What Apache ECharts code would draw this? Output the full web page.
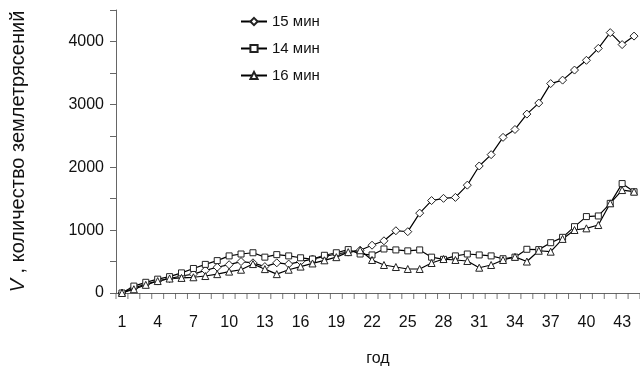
<!DOCTYPE html>
<html>
<head>
<meta charset="utf-8">
<script src="https://cdn.jsdelivr.net/npm/echarts@6/dist/echarts.min.js"></script>
<style>
  html, body { margin: 0; padding: 0; background: #fff; }
  #chart { width: 640px; height: 373px; }
</style>
</head>
<body>
<div id="chart"></div>
<script>
// годы 1..44
const years = [];
for (let i = 1; i <= 44; i++) years.push(String(i));

const seriesNames = ['15 мин', '14 мин', '16 мин'];

// 15 мин (ромбы)
const min15 = [0, 80, 140, 190, 230, 270, 300, 360, 410, 450,
  500, 480, 420, 480, 460, 500, 540, 580, 620, 650,
  680, 760, 830, 990, 975, 1270, 1470, 1505, 1520, 1715,
  2020, 2200, 2475, 2600, 2845, 3020, 3330, 3385, 3545, 3700,
  3890, 4140, 3950, 4085];

// 14 мин (квадраты)
const min14 = [0, 110, 170, 220, 260, 320, 390, 455, 515, 590,
  620, 640, 570, 610, 590, 560, 540, 600, 640, 690,
  620, 605, 700, 685, 670, 685, 570, 535, 590, 620,
  605, 590, 545, 570, 695, 690, 800, 885, 1055, 1215,
  1225, 1425, 1740, 1610];

// 16 мин (треугольники)
const min16 = [0, 60, 130, 190, 230, 240, 250, 270, 300, 340,
  370, 460, 380, 300, 370, 420, 470, 520, 570, 650,
  680, 525, 445, 413, 382, 382, 477, 540, 525, 509,
  402, 445, 525, 575, 500, 672, 657, 860, 1002, 1028,
  1081, 1426, 1637, 1611];

const yTicks = [0, 1000, 2000, 3000, 4000];

// границы между годами (для делений оси X)
const yearBounds = [];
for (let i = 0; i <= years.length; i++) yearBounds.push([i, 0]);

const chart = echarts.init(document.getElementById('chart'));

function makeSeries(name, data, symbol, size) {
  return {
    name: name,
    type: 'line',
    data: data,
    symbol: symbol,
    symbolSize: size,
    showAllSymbol: true,
    lineStyle: { color: '#000', width: 1.2 },
    itemStyle: { color: '#fff', borderColor: '#222', borderWidth: 1 },
    emphasis: { disabled: true },
    animation: false
  };
}

chart.setOption({
  backgroundColor: '#fff',
  textStyle: { fontFamily: '"Liberation Sans", Arial, sans-serif' },
  grid: { left: 116, right: -3, top: 10, bottom: 80 },
  legend: {
    orient: 'vertical',
    left: 235,
    top: 9,
    itemWidth: 26,
    itemHeight: 9,
    itemGap: 12,
    data: seriesNames,
    textStyle: { fontSize: 15, color: '#111' }
  },
  xAxis: [{
    type: 'category',
    data: years,
    name: 'год',
    nameLocation: 'middle',
    nameGap: 58,
    nameTextStyle: { fontSize: 16, color: '#111' },
    axisLine: { show: true, lineStyle: { color: '#666', width: 1 } },
    axisTick: { show: false },
    axisLabel: { interval: 2, fontSize: 16, color: '#111', margin: 22 },
    splitLine: { show: false }
  }, {
    // скрытая ось для делений между годами
    type: 'value',
    show: false,
    min: 0,
    max: years.length
  }],
  yAxis: {
    type: 'value',
    min: 0,
    max: 4500,
    interval: 500,
    name: '{i|V} , количество землетрясений',
    nameLocation: 'middle',
    nameGap: 88,
    nameRotate: 90,
    nameTextStyle: {
      fontSize: 20,
      color: '#111',
      rich: { i: { fontStyle: 'italic', fontSize: 20, color: '#111' } }
    },
    axisLine: { show: true, lineStyle: { color: '#666', width: 1 } },
    axisTick: { show: true, length: 6, lineStyle: { color: '#666' } },
    axisLabel: {
      fontSize: 16,
      color: '#111',
      margin: 12,
      formatter: v => (yTicks.indexOf(v) >= 0 ? String(v) : '')
    },
    splitLine: { show: false }
  },
  series: [
    {
      type: 'scatter',
      xAxisIndex: 1,
      data: yearBounds,
      symbol: 'rect',
      symbolSize: [1, 6],
      symbolOffset: [0, 3],
      itemStyle: { color: '#555' },
      clip: false,
      silent: true,
      z: 1,
      animation: false
    },
    makeSeries(seriesNames[0], min15, 'diamond', 8),
    makeSeries(seriesNames[1], min14, 'rect', 6),
    makeSeries(seriesNames[2], min16, 'triangle', 7)
  ]
});
</script>
</body>
</html>
